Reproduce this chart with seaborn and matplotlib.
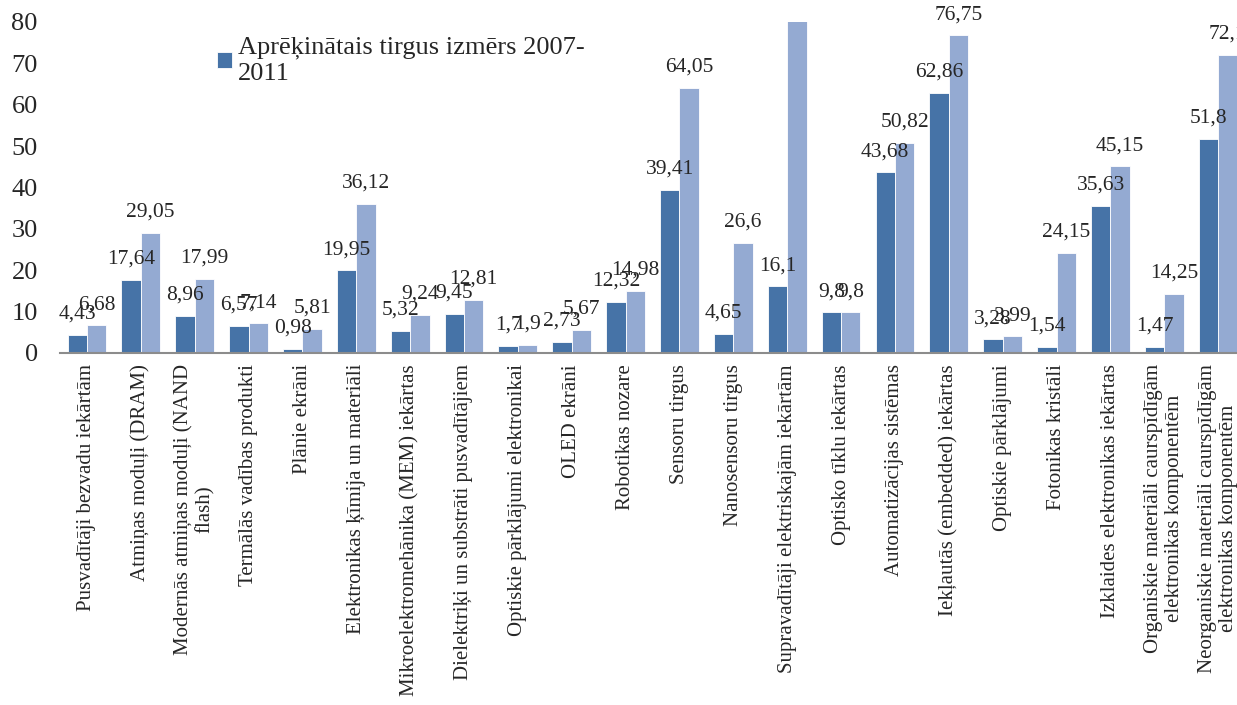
import matplotlib
matplotlib.use("Agg")
import matplotlib.pyplot as plt
import seaborn as sns
import pandas as pd

# ==========================
# data
# ==========================
categories = [
    "Pusvadītāji bezvadu iekārtām",
    "Atmiņas moduļi (DRAM)",
    "Modernās atmiņas moduļi (NAND\nflash)",
    "Termālās vadības produkti",
    "Plānie ekrāni",
    "Elektronikas ķīmija un materiāli",
    "Mikroelektromehānika (MEM) iekārtas",
    "Dielektriķi un substrāti pusvadītājiem",
    "Optiskie pārklājumi elektronikai",
    "OLED ekrāni",
    "Robotikas nozare",
    "Sensoru tirgus",
    "Nanosensoru tirgus",
    "Supravadītāji elektriskajām iekārtām",
    "Optisko tīklu iekārtas",
    "Automatizācijas sistēmas",
    "Iekļautās (embedded) iekārtas",
    "Optiskie pārklājumi",
    "Fotonikas kristāli",
    "Izklaides elektronikas iekārtas",
    "Organiskie materiāli caurspīdīgām\nelektronikas komponentēm",
    "Neorganiskie materiāli caurspīdīgām\nelektronikas komponentēm",
]
series_names = ["Aprēķinātais tirgus izmērs 2007-\n2011", "Prognozētais tirgus izmērs"]
values_2007_2011 = [4.43, 17.64, 8.96, 6.57, 0.98, 19.95, 5.32, 9.45, 1.7, 2.73, 12.32,
                    39.41, 4.65, 16.1, 9.8, 43.68, 62.86, 3.28, 1.54, 35.63, 1.47, 51.8]
values_forecast = [6.68, 29.05, 17.99, 7.14, 5.81, 36.12, 9.24, 12.81, 1.9, 5.67, 14.98,
                   64.05, 26.6, 100.0, 9.8, 50.82, 76.75, 3.99, 24.15, 45.15, 14.25, 72.1]
colors = ["#4673A7", "#94AAD2"]

df = pd.DataFrame({
    "kategorija": categories * 2,
    "vertiba": values_2007_2011 + values_forecast,
    "serija": [series_names[0]] * len(categories) + [series_names[1]] * len(categories),
})

# ==========================
# plot
# ==========================
sns.set_style("white")
plt.rcParams["font.family"] = ["Liberation Serif", "DejaVu Serif"]

fig = plt.figure(figsize=(12.37, 7.05), dpi=100)
ax = fig.add_axes([0.0485, 0.4993, 0.958, 0.4695])

sns.barplot(data=df, x="kategorija", y="vertiba", hue="serija", palette=colors,
            saturation=1, width=0.72, edgecolor="white", linewidth=0.6, ax=ax)

for cont in ax.containers:
    labels = [f"{v:g}".replace(".", ",") for v in cont.datavalues]
    ax.bar_label(cont, labels=labels, padding=8, fontsize=15.5)

ax.set_ylim(0, 80)
ax.set_xlim(-0.5, len(categories) - 0.5)
ax.set_yticks(range(0, 81, 10))
ax.tick_params(axis="y", labelsize=19, pad=16, length=0)
ax.tick_params(axis="x", labelsize=15, pad=8, length=0)
plt.setp(ax.get_xticklabels(), rotation=90, ha="center", va="top", multialignment="center",
         linespacing=1.15)
ax.set_xlabel("")
ax.set_ylabel("")

for s in ["top", "right", "left"]:
    ax.spines[s].set_visible(False)
ax.spines["bottom"].set_color("#8c8c8c")
ax.spines["bottom"].set_linewidth(1.5)

handles, labels = ax.get_legend_handles_labels()
ax.legend(handles[:1], labels[:1], loc="upper left", bbox_to_anchor=(0.1325, 0.955),
          frameon=False, fontsize=19, handlelength=0.55, handleheight=0.55,
          handletextpad=0.25, borderaxespad=0, borderpad=0)

fig.savefig("out.png", dpi=100)
